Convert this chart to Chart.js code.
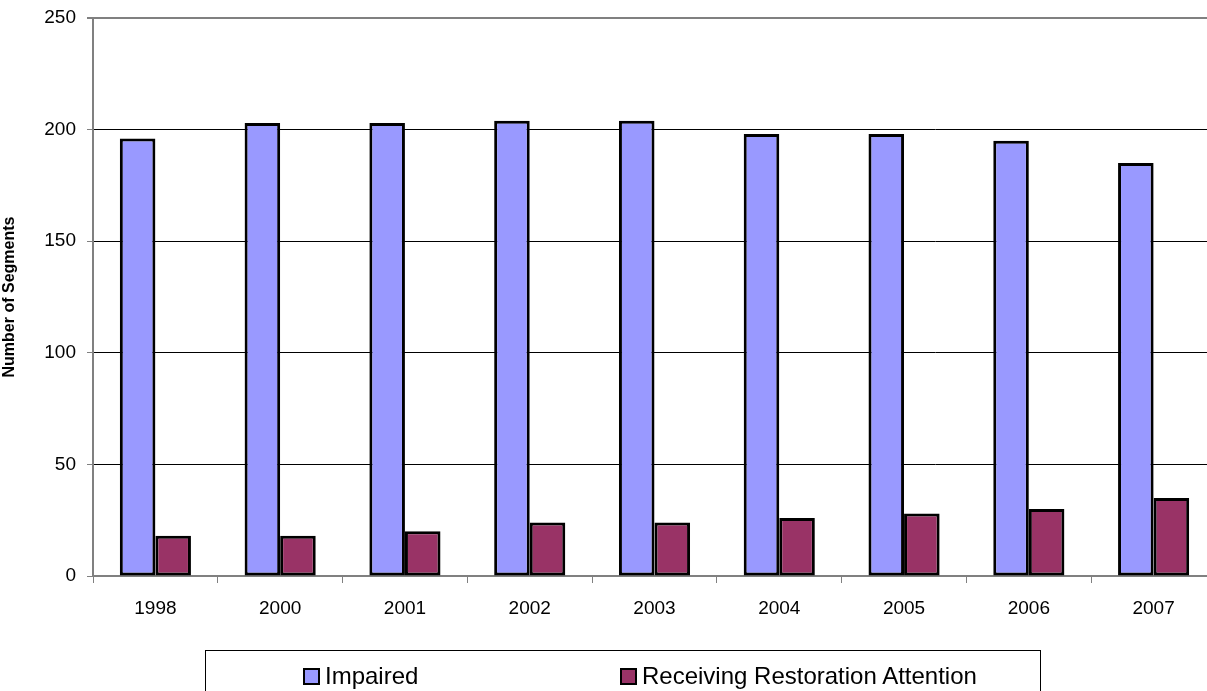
<!DOCTYPE html>
<html lang="en">
<head>
<meta charset="UTF-8">
<title>Impaired Segments</title>
<script src="https://cdn.jsdelivr.net/npm/chart.js@4.4.0/dist/chart.umd.min.js"></script>
<style>
html,body{margin:0;padding:0;background:#fff;overflow:hidden;width:1207px;height:691px}
#wrap{position:absolute;left:0;top:0;width:1230px;height:691px}
#legend{position:absolute;left:205px;top:650px;width:836px;height:60px;border:1px solid #000;box-sizing:border-box;
  font-family:'Liberation Sans',Arial,sans-serif;font-size:24px;color:#000}
.item{position:absolute;top:11px;display:flex;align-items:center;white-space:nowrap}
.sw{width:13px;height:13px;border:2.5px solid #000;margin-right:5px}
</style>
</head>
<body>
<div id="wrap"><canvas id="chart" width="1230" height="691"></canvas></div>
<div id="legend"></div>

<script>
/* ---------- data ---------- */
const years = ['1998','2000','2001','2002','2003','2004','2005','2006','2007'];
const impaired = [196, 203, 203, 204, 204, 198, 198, 195, 185];
const restoration = [18, 18, 20, 24, 24, 26, 28, 30, 35];
const seriesNames = ['Impaired', 'Receiving Restoration Attention'];
const seriesColors = ['#9999FF', '#993366'];
const yTicks = [0, 50, 100, 150, 200, 250];

const font = "'Liberation Sans', Arial, sans-serif";

const chart = new Chart(document.getElementById('chart'), {
  type: 'bar',
  data: {
    labels: years,
    datasets: [impaired, restoration].map((d, i) => ({
      label: seriesNames[i],
      data: d,
      backgroundColor: seriesColors[i],
      borderColor: '#000',
      borderWidth: 3,
      borderSkipped: false,
      categoryPercentage: 0.57,
      barPercentage: 1.0
    }))
  },
  options: {
    responsive: false,
    animation: false,
    layout: { padding: { left: 0, right: 14, top: 18, bottom: 0 } },
    plugins: { legend: { display: false }, tooltip: { enabled: false } },
    scales: {
      x: {
        grid: { offset: true, drawOnChartArea: false, tickLength: 7, color: '#808080', lineWidth: 1 },
        border: { color: '#808080', width: 2 },
        ticks: { color: '#000', padding: 14, font: { family: font, size: 19 } },
        afterFit: s => { s.height = 115; s.paddingLeft = 0; s.paddingRight = 0; }
      },
      y: {
        min: yTicks[0], max: yTicks[yTicks.length - 1],
        afterBuildTicks: s => { s.ticks = yTicks.map(v => ({ value: v })); },
        grid: {
          color: c => c.tick && c.tick.value === 250 ? '#808080' : '#000',
          lineWidth: c => c.tick && c.tick.value === 250 ? 2 : 1,
          tickColor: '#808080', tickLength: 6
        },
        border: { color: '#808080', width: 2 },
        ticks: { color: '#000', padding: 11, font: { family: font, size: 19 } },
        title: {
          display: true, text: 'Number of Segments', color: '#000',
          font: { family: font, size: 16, weight: 'bold' }, padding: { top: 0, bottom: 0 }
        },
        afterFit: s => { s.width = 93; s.paddingTop = 0; s.paddingBottom = 0; }
      }
    }
  }
});

/* ---------- HTML legend ---------- */
const legend = document.getElementById('legend');
const itemLeft = [97, 414];
seriesNames.forEach((n, i) => {
  const it = document.createElement('div');
  it.className = 'item';
  it.style.left = itemLeft[i] + 'px';
  it.innerHTML = `<span class="sw" style="background:${seriesColors[i]}"></span><span>${n}</span>`;
  legend.appendChild(it);
});
</script>
</body>
</html>
